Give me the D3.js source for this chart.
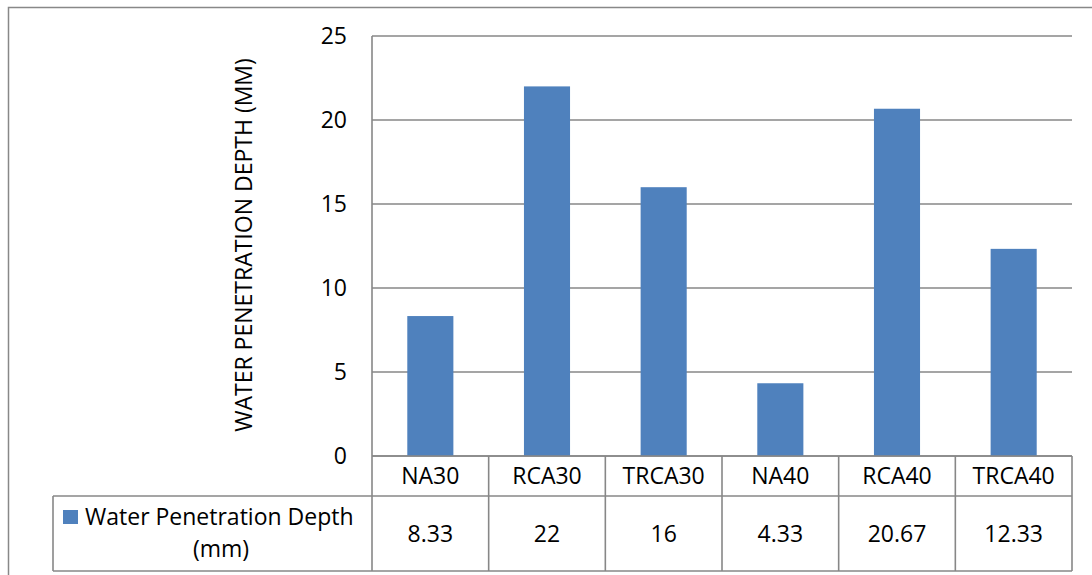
<!DOCTYPE html>
<html><head><meta charset="utf-8">
<script src="https://cdn.jsdelivr.net/npm/d3@7"></script>
<style>body{margin:0;background:#fff}svg{display:block}text{font-family:"Open Sans",sans-serif;fill:#000}</style>
</head><body>
<svg id="c" width="1092" height="575"></svg>
<script>
const categories = ["NA30","RCA30","TRCA30","NA40","RCA40","TRCA40"];
const values = [8.33, 22, 16, 4.33, 20.67, 12.33];
const valueLabels = ["8.33","22","16","4.33","20.67","12.33"];
const yTicks = [0,5,10,15,20,25];
const seriesName = ["Water Penetration Depth","(mm)"];
const yTitle = "WATER PENETRATION DEPTH (MM)";

const svg = d3.select("#c");
const L = 372, R = 1072, T = 36, B = 456;
const rowH1 = 496, rowH2 = 571, legL = 53;
const grid = "#878787";
const fs = 23;

// outer border
svg.append("path").attr("d","M8.5,580 V7.5 H1100").attr("fill","none").attr("stroke","#888").attr("stroke-width",1.5);

const x = d3.scaleBand().domain(categories).range([L,R]).paddingInner(0).paddingOuter(0);
const y = d3.scaleLinear().domain([0,25]).range([B,T]);

// gridlines
svg.append("g").selectAll("line").data(yTicks).join("line")
  .attr("x1",L).attr("x2",R).attr("y1",d=>y(d)).attr("y2",d=>y(d))
  .attr("stroke",grid).attr("stroke-width",1.6);

// y tick labels
svg.append("g").selectAll("text").data(yTicks).join("text")
  .attr("x",347).attr("y",d=>y(d)).attr("dy","0.36em").attr("text-anchor","end")
  .attr("font-size",fs).text(d=>d);

// bars
const bw = x.bandwidth()*0.395;
svg.append("g").selectAll("rect").data(values).join("rect")
  .attr("x",(d,i)=>x(categories[i])+x.bandwidth()/2-bw/2)
  .attr("width",bw)
  .attr("y",d=>y(d)).attr("height",d=>B-y(d))
  .attr("fill","#4F81BD");

// axis line vertical
svg.append("line").attr("x1",L).attr("x2",L).attr("y1",T).attr("y2",rowH2).attr("stroke",grid).attr("stroke-width",1.6);

// table
const tg = svg.append("g").attr("stroke",grid).attr("stroke-width",1.6).attr("fill","none");
tg.append("line").attr("x1",L).attr("x2",R).attr("y1",B).attr("y2",B);
tg.append("line").attr("x1",legL).attr("x2",R).attr("y1",rowH1).attr("y2",rowH1);
tg.append("line").attr("x1",legL).attr("x2",R).attr("y1",rowH2).attr("y2",rowH2);
tg.append("line").attr("x1",legL).attr("x2",legL).attr("y1",rowH1).attr("y2",rowH2);
tg.selectAll("line.v").data(categories).join("line").attr("class","v")
  .attr("x1",d=>x(d)+x.bandwidth()).attr("x2",d=>x(d)+x.bandwidth())
  .attr("y1",B).attr("y2",rowH2);

svg.append("g").selectAll("text").data(categories).join("text")
  .attr("x",d=>x(d)+x.bandwidth()/2).attr("y",(B+rowH1)/2).attr("dy","0.36em")
  .attr("text-anchor","middle").attr("font-size",fs).text(d=>d);
svg.append("g").selectAll("text").data(valueLabels).join("text")
  .attr("x",(d,i)=>x(categories[i])+x.bandwidth()/2).attr("y",(rowH1+rowH2)/2).attr("dy","0.36em")
  .attr("text-anchor","middle").attr("font-size",fs).text(d=>d);

// legend
svg.append("rect").attr("x",63).attr("y",510).attr("width",15).attr("height",14).attr("fill","#4F81BD");
svg.append("text").attr("x",85).attr("y",517).attr("dy","0.36em").attr("font-size",fs).text(seriesName[0]);
svg.append("text").attr("x",221).attr("y",549).attr("dy","0.36em").attr("text-anchor","middle").attr("font-size",fs).text(seriesName[1]);

// y title
svg.append("text").attr("transform","translate(244,245) rotate(-90)").attr("dy","0.36em")
  .attr("text-anchor","middle").attr("font-size",fs).text(yTitle);
</script>
</body></html>
